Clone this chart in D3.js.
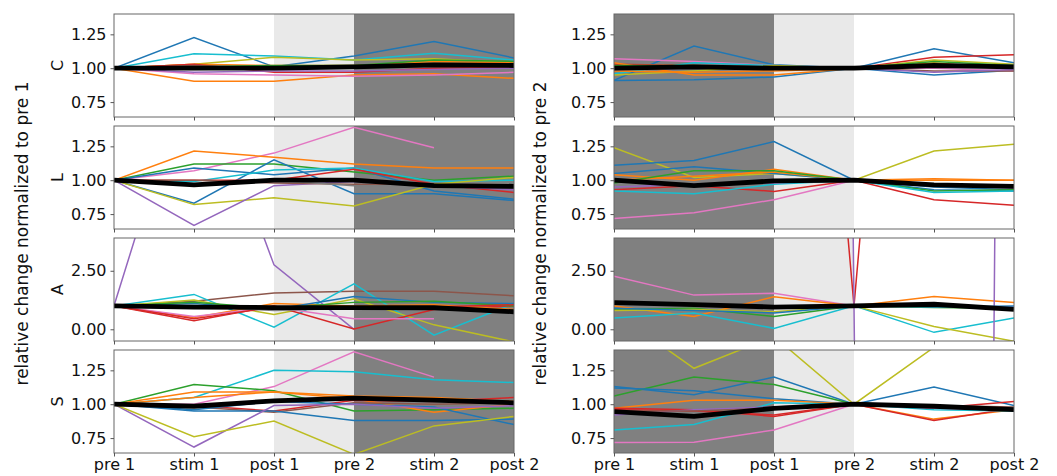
<!DOCTYPE html>
<html><head><meta charset="utf-8">
<script src="https://cdn.jsdelivr.net/npm/d3@7"></script>
<style>body{margin:0;background:#fff;} text{font-family:"DejaVu Sans",sans-serif;}</style>
</head><body>
<svg id="chart" width="1057" height="476"></svg>
<script>
// ---------- data ----------
const xLabels = ["pre 1","stim 1","post 1","pre 2","stim 2","post 2"];
const rowNames = ["C","L","A","S"];
const yTicksNorm = [0.75,1.00,1.25];
const yTicksA = [0.00,2.50];
const palette = ["#1f77b4","#ff7f0e","#2ca02c","#d62728","#9467bd","#8c564b","#e377c2","#7f7f7f","#bcbd22","#17becf"];

// left column: normalized to pre 1
const C_pre1 = [
  [1,1.227,1.01,1.09,1.197,1.076],
  [1,1.106,1.09,1.06,1.11,1.06],
  [1,1.03,1.08,1.06,1.07,1.04],
  [1,0.904,0.904,0.95,0.96,0.925],
  [1,1.03,1.02,1.02,1.05,1.04],
  [1,0.96,0.95,0.94,0.95,0.97],
  [1,1.03,0.97,0.97,1.0,1.01],
  [1,0.97,0.98,0.98,0.99,1.0],
  [1,1.01,1.02,1.02,1.06,1.05],
  [1,1.02,1.0,1.0,1.02,1.03],
  [1,0.99,1.0,1.01,1.03,1.02]
];
const C_pre1_colors = [0,9,8,1,1,6,3,4,2,5,7];
const C_pre1_mean = [1,1.0,1.0,1.01,1.025,1.02];

const L_pre1 = [
  [1,1.07,1.20,1.39,1.24,null],
  [1,1.215,1.17,1.12,1.09,1.09],
  [1,1.12,1.12,1.06,1.0,1.03],
  [1,1.09,1.04,1.09,0.92,0.86],
  [1,0.83,1.15,0.90,0.90,0.85],
  [1,0.99,1.075,1.09,0.99,1.0],
  [1,1.0,1.0,1.08,0.97,0.91],
  [1,0.82,0.87,0.81,0.97,1.02],
  [1,0.667,0.96,0.99,0.96,0.93],
  [1,1.0,0.98,0.97,0.96,0.95],
  [1,0.97,1.0,0.96,0.96,0.95]
];
const L_pre1_colors = [6,1,2,0,0,9,3,8,4,5,7];
const L_pre1_mean = [1,0.965,1.0,1.0,0.96,0.955];

const A_pre1 = [
  [1,12,2.75,0.0,null,null],
  [1,1.2,1.55,1.62,1.62,1.43],
  [1,1.49,0.09,1.94,-0.25,1.10],
  [1,1.25,0.63,1.29,0.19,-0.54],
  [1,0.37,1.0,0.01,0.85,1.0],
  [1,0.5,1.1,1.0,1.05,0.85],
  [1,0.55,0.95,0.45,0.45,null],
  [1,1.1,0.85,1.4,1.15,1.1],
  [1,1.15,0.9,1.15,1.2,1.0],
  [1,0.45,0.95,0.9,0.95,1.05],
  [1,1.0,0.8,0.9,0.9,0.8]
];
const A_pre1_colors = [4,5,9,8,3,1,6,0,2,3,7];
const A_pre1_mean = [1,0.95,0.93,0.93,0.92,0.75];

const S_pre1 = [
  [1,1.0,1.13,1.386,1.20,null],
  [1,1.05,1.25,1.24,1.18,1.16],
  [1,1.146,1.10,0.95,0.96,0.97],
  [1,1.09,1.09,1.04,0.94,1.0],
  [1,1.05,1.09,1.06,1.05,1.02],
  [1,0.99,0.95,1.03,1.02,1.05],
  [1,0.98,0.94,1.01,1.0,1.01],
  [1,0.95,0.95,0.88,0.88,0.89],
  [1,0.96,1.02,1.0,0.98,0.85],
  [1,0.684,0.99,1.0,0.97,0.99],
  [1,0.76,0.876,0.63,0.84,0.91]
];
const S_pre1_colors = [6,9,2,1,1,3,5,0,0,4,8];
const S_pre1_mean = [1,0.985,1.025,1.045,1.03,1.01];

// right column: normalized to pre 2
const C_pre2 = [
  [0.91,1.164,1.025,1,1.144,1.04],
  [0.91,0.915,0.935,1,0.95,0.985],
  [1.03,1.02,1.0,1,1.08,1.10],
  [1.07,1.05,1.02,1,1.0,0.98],
  [0.96,1.04,1.02,1,1.03,1.02],
  [0.95,0.98,1.02,1,1.06,1.03],
  [1.04,0.95,0.95,1,1.02,1.0],
  [0.98,0.97,0.98,1,1.04,0.99],
  [1.02,1.02,1.0,1,1.05,1.02],
  [1.0,1.0,1.0,1,0.98,0.98],
  [0.99,1.0,1.0,1,0.97,0.99]
];
const C_pre2_colors = [0,0,3,6,9,8,1,1,2,5,4];
const C_pre2_mean = [1.0,1.01,1.0,1.0,1.02,1.01];

const L_pre2 = [
  [1.24,1.02,1.05,1,1.215,1.265],
  [1.11,1.146,1.285,1,0.95,0.93],
  [1.05,1.10,1.05,1,0.93,0.92],
  [1.04,1.0,1.08,1,1.0,1.0],
  [1.0,1.03,1.06,1,1.01,1.0],
  [0.98,1.07,1.07,1,0.92,0.93],
  [0.93,0.96,0.917,1,0.856,0.816],
  [0.92,0.90,0.97,1,0.91,0.92],
  [0.717,0.76,0.856,1,0.97,0.95],
  [0.95,0.97,0.98,1,0.97,0.94]
];
const L_pre2_colors = [8,0,0,1,1,2,3,9,6,4];
const L_pre2_mean = [1.0,0.96,0.995,1.0,0.965,0.955];

const A_pre2 = [
  [2.27,1.46,1.54,1,0.95,0.95],
  [1.0,0.55,1.39,1,1.40,1.14],
  [0.85,0.9,0.55,1,0.93,0.9],
  [0.48,0.7,0.04,1,-0.13,0.48],
  [0.8,0.85,0.75,1,0.12,-0.51],
  [40,15,40,1,40,40],
  [300,300,300,1,-300,100],
  [0.9,0.8,0.7,1,0.95,1.0]
];
const A_pre2_colors = [6,1,2,9,8,3,4,0];
const A_pre2_mean = [1.14,1.05,0.95,1.0,1.07,0.85];

const S_pre2 = [
  [1.68,1.265,1.5,1,1.42,1.8],
  [1.13,1.07,1.20,1,1.126,0.99],
  [1.06,1.20,1.145,1,0.98,0.97],
  [1.12,1.10,1.04,1,0.97,0.96],
  [0.97,1.03,1.03,1,0.89,0.96],
  [0.97,0.96,0.91,1,0.97,1.02],
  [0.96,0.95,0.92,1,0.88,0.97],
  [0.81,0.85,1.01,1,0.96,0.95],
  [0.717,0.72,0.81,1,0.97,0.96],
  [0.92,0.96,0.98,1,0.98,0.97],
  [0.95,0.95,0.97,1,0.99,0.98]
];
const S_pre2_colors = [8,0,2,0,1,3,3,9,6,4,5];
const S_pre2_mean = [0.945,0.91,0.97,1.0,0.985,0.96];

const yDomainNorm = [0.64,1.40];
const yDomainA = [-0.5,3.9];

// ---------- layout ----------
const svg = d3.select("#chart");
const colX = [114, 614];
const colW = 400;
const rowTop = [14,126,238,350];
const rowH = 103;

const panels = [
  [ [C_pre1,C_pre1_colors,C_pre1_mean], [L_pre1,L_pre1_colors,L_pre1_mean], [A_pre1,A_pre1_colors,A_pre1_mean], [S_pre1,S_pre1_colors,S_pre1_mean] ],
  [ [C_pre2,C_pre2_colors,C_pre2_mean], [L_pre2,L_pre2_colors,L_pre2_mean], [A_pre2,A_pre2_colors,A_pre2_mean], [S_pre2,S_pre2_colors,S_pre2_mean] ]
];
const spans = [
  [[2,3,"#e9e9e9"],[3,5,"#808080"]],
  [[0,2,"#808080"],[2,3,"#e9e9e9"]]
];

panels.forEach((col, ci) => {
  col.forEach((p, ri) => {
    const [series, colors, mean] = p;
    const xs = d3.scaleLinear().domain([0,5]).range([colX[ci], colX[ci]+colW]);
    const dom = ri === 2 ? yDomainA : yDomainNorm;
    const ys = d3.scaleLinear().domain(dom).range([rowTop[ri]+rowH, rowTop[ri]]);
    const g = svg.append("g");
    const cid = `clip${ci}${ri}`;
    svg.append("clipPath").attr("id", cid).append("rect")
      .attr("x", colX[ci]).attr("y", rowTop[ri]).attr("width", colW).attr("height", rowH);
    const pg = g.append("g").attr("clip-path", `url(#${cid})`);
    spans[ci].forEach(s => {
      pg.append("rect").attr("x", xs(s[0])).attr("y", rowTop[ri])
        .attr("width", xs(s[1]) - xs(s[0])).attr("height", rowH).attr("fill", s[2]);
    });
    const line = d3.line().defined(d => d != null).x((d,i) => xs(i)).y(d => ys(d));
    series.forEach((s, si) => {
      pg.append("path").attr("d", line(s)).attr("fill","none")
        .attr("stroke", palette[colors[si]]).attr("stroke-width", 1.5);
    });
    pg.append("path").attr("d", line(mean)).attr("fill","none")
      .attr("stroke", "#000").attr("stroke-width", 4.8).attr("stroke-linejoin","round");

    g.append("rect").attr("x", colX[ci]).attr("y", rowTop[ri]).attr("width", colW).attr("height", rowH)
      .attr("fill","none").attr("stroke","#666").attr("stroke-width",1);

    const yAx = d3.axisLeft(ys).tickValues(ri === 2 ? yTicksA : yTicksNorm)
      .tickFormat(d3.format(".2f")).tickSizeInner(3.5).tickSizeOuter(0).tickPadding(4);
    const ya = g.append("g").attr("transform", `translate(${colX[ci]},0)`).call(yAx);
    ya.select(".domain").remove();
    ya.selectAll("line").attr("stroke","#555");
    ya.selectAll("text").attr("font-size", 16).attr("fill","#111");

    const xAx = d3.axisBottom(xs).tickValues(d3.range(6))
      .tickFormat(ri === 3 ? (i => xLabels[i]) : (() => "")).tickSizeInner(3.5).tickSizeOuter(0).tickPadding(2);
    const xa = g.append("g").attr("transform", `translate(0,${rowTop[ri]+rowH})`).call(xAx);
    xa.select(".domain").remove();
    xa.selectAll("line").attr("stroke","#555");
    xa.selectAll("text").attr("font-size", 16).attr("fill","#111");

    if (ci === 0) {
      svg.append("text").attr("transform", `translate(57,${rowTop[ri]+rowH/2}) rotate(-90)`)
        .attr("text-anchor","middle").attr("dy","0.35em").attr("font-size",16).attr("fill","#111")
        .text(rowNames[ri]);
    }
  });
});

svg.append("text").attr("transform", `translate(22,${(rowTop[0]+rowTop[3]+rowH)/2}) rotate(-90)`)
  .attr("text-anchor","middle").attr("dy","0.35em").attr("font-size",17).attr("fill","#111")
  .text("relative change normalized to pre 1");
svg.append("text").attr("transform", `translate(540,${(rowTop[0]+rowTop[3]+rowH)/2}) rotate(-90)`)
  .attr("text-anchor","middle").attr("dy","0.35em").attr("font-size",17).attr("fill","#111")
  .text("relative change normalized to pre 2");
</script>
</body></html>
